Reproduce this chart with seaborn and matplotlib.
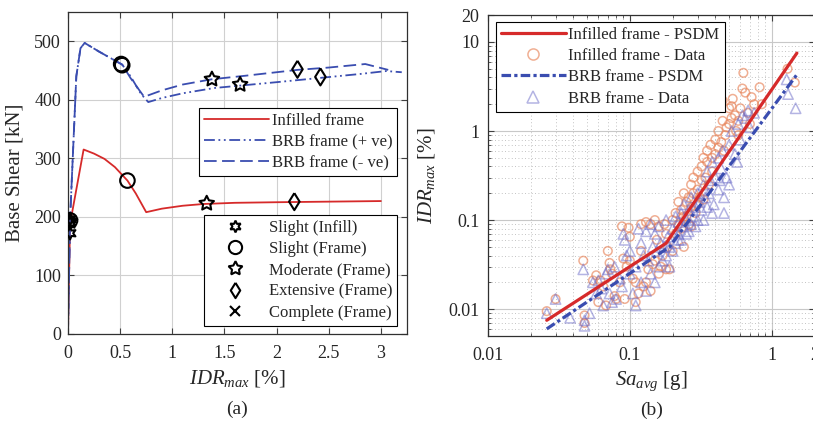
import numpy as np
import pandas as pd
import matplotlib
matplotlib.use("Agg")
import matplotlib.pyplot as plt
import matplotlib.ticker as mticker
from matplotlib.lines import Line2D
import seaborn as sns

sns.set_style("ticks")
plt.rcParams["font.family"] = ["Liberation Serif", "DejaVu Serif"]
plt.rcParams["mathtext.fontset"] = "custom"
plt.rcParams["mathtext.rm"] = "Liberation Serif"
plt.rcParams["mathtext.it"] = "Liberation Serif:italic"

# ---- (a) pushover curves ----
inf_x = [0, 0.02, 0.15, 0.25, 0.35, 0.45, 0.57, 0.65, 0.75, 0.9, 1.1, 1.3, 1.6, 2.0, 2.5, 3.0]
inf_y = [0, 188, 315, 308, 299, 285, 262, 240, 208, 214, 219, 222, 224, 225, 226, 227]

brb_pos_x = [0, 0.02, 0.08, 0.12, 0.16, 0.3, 0.45, 0.52, 0.6, 0.7, 0.77, 0.9, 1.1, 1.4, 1.7, 2.0, 2.4, 2.8, 3.05, 3.2]
brb_pos_y = [0, 195, 440, 488, 497, 482, 467, 460, 440, 410, 396, 403, 411, 420, 425, 430, 437, 444, 449, 447]

brb_neg_x = [0, 0.02, 0.08, 0.12, 0.16, 0.3, 0.45, 0.52, 0.6, 0.73, 0.9, 1.1, 1.38, 1.7, 2.0, 2.2, 2.5, 2.85, 3.07]
brb_neg_y = [0, 195, 440, 488, 497, 482, 467, 460, 437, 405, 416, 426, 435, 441, 447, 451, 455, 461, 451]

slight_inf_x = [0.02, 0.02, 0.02]
slight_inf_y = [196, 190, 172]
slight_fr_x = [0.51, 0.52, 0.57, 0.02]
slight_fr_y = [461, 459, 262, 194]
moderate_x = [1.38, 1.65, 1.33, 0.02]
moderate_y = [435, 426, 223, 192]
extensive_x = [2.2, 2.42, 2.17]
extensive_y = [452, 439, 226]
complete_x = [3.07, 3.2, 3.0]
complete_y = [450, 447, 228]

# ---- (b) PSDM ----
psdm_inf_sa = [0.026, 0.18, 1.5]
psdm_inf_idr = [0.0075, 0.055, 7.5]
psdm_brb_sa = [0.026, 0.19, 1.5]
psdm_brb_idr = [0.006, 0.05, 4.3]

inf_sa = [0.026, 0.030, 0.047, 0.048, 0.048, 0.055, 0.058, 0.060, 0.062, 0.065, 0.068, 0.070,
          0.072, 0.073, 0.075, 0.078, 0.080, 0.085, 0.088, 0.090, 0.092, 0.095, 0.098, 0.10,
          0.10, 0.105, 0.11, 0.11, 0.115, 0.12, 0.12, 0.125, 0.13, 0.13, 0.135, 0.14, 0.14,
          0.145, 0.15, 0.15, 0.155, 0.16, 0.16, 0.165, 0.17, 0.175, 0.18, 0.18, 0.185, 0.19,
          0.20, 0.20, 0.21, 0.21, 0.22, 0.22, 0.23, 0.23, 0.24, 0.24, 0.25, 0.25, 0.26, 0.26,
          0.27, 0.27, 0.28, 0.28, 0.29, 0.30, 0.30, 0.31, 0.32, 0.32, 0.33, 0.34, 0.35, 0.35,
          0.36, 0.37, 0.38, 0.40, 0.40, 0.42, 0.42, 0.44, 0.45, 0.45, 0.47, 0.48, 0.50, 0.50,
          0.52, 0.52, 0.53, 0.55, 0.58, 0.60, 0.62, 0.63, 0.65, 0.68, 0.72, 0.75, 0.82, 0.58,
          0.38, 0.30, 0.70, 0.85, 1.29, 1.45, 0.24, 0.27, 0.33, 0.46, 0.56]
inf_idr = [0.0095, 0.013, 0.035, 0.0085, 0.007, 0.021, 0.024, 0.012, 0.021, 0.018, 0.011, 0.045,
           0.033, 0.028, 0.025, 0.014, 0.013, 0.020, 0.085, 0.037, 0.013, 0.030, 0.082, 0.065,
           0.035, 0.022, 0.012, 0.020, 0.015, 0.090, 0.045, 0.018, 0.095, 0.020, 0.028, 0.090,
           0.016, 0.032, 0.10, 0.035, 0.060, 0.025, 0.085, 0.030, 0.040, 0.090, 0.028, 0.070,
           0.050, 0.028, 0.10, 0.045, 0.12, 0.070, 0.16, 0.090, 0.080, 0.13, 0.050, 0.20, 0.11,
           0.16, 0.18, 0.090, 0.25, 0.14, 0.20, 0.30, 0.12, 0.35, 0.22, 0.18, 0.40, 0.28, 0.50,
           0.30, 0.60, 0.45, 0.25, 0.70, 0.50, 0.80, 0.55, 1.0, 0.65, 0.75, 1.3, 2.2, 0.90, 1.1,
           1.8, 1.2, 1.9, 1.4, 2.3, 1.5, 1.3, 1.8, 3.0, 4.5, 2.7, 1.6, 2.4, 2.0, 3.1, 0.90, 0.35,
           0.15, 1.2, 2.0, 5.0, 3.5, 0.11, 0.085, 0.17, 0.60, 1.0]

brb_sa = [0.026, 0.030, 0.038, 0.047, 0.048, 0.048, 0.052, 0.055, 0.058, 0.060, 0.063, 0.065,
          0.068, 0.070, 0.072, 0.075, 0.078, 0.080, 0.085, 0.088, 0.090, 0.092, 0.095, 0.10,
          0.10, 0.105, 0.11, 0.11, 0.115, 0.12, 0.12, 0.125, 0.13, 0.13, 0.135, 0.14, 0.14,
          0.145, 0.15, 0.15, 0.155, 0.16, 0.16, 0.165, 0.17, 0.175, 0.18, 0.18, 0.185, 0.19,
          0.20, 0.20, 0.21, 0.21, 0.22, 0.22, 0.23, 0.23, 0.24, 0.24, 0.25, 0.25, 0.26, 0.27,
          0.27, 0.28, 0.29, 0.30, 0.30, 0.31, 0.32, 0.33, 0.34, 0.35, 0.36, 0.37, 0.38, 0.39,
          0.40, 0.42, 0.42, 0.44, 0.45, 0.46, 0.48, 0.50, 0.50, 0.52, 0.55, 0.58, 0.60, 0.62,
          0.65, 0.68, 0.70, 0.75, 0.38, 0.33, 1.27, 1.30, 1.47, 0.46, 0.26, 0.29, 0.35, 0.43,
          0.19, 0.22, 0.57]
brb_idr = [0.009, 0.013, 0.008, 0.028, 0.0075, 0.0065, 0.009, 0.020, 0.015, 0.021, 0.017, 0.011,
           0.025, 0.028, 0.015, 0.012, 0.030, 0.013, 0.022, 0.018, 0.070, 0.060, 0.040, 0.025,
           0.045, 0.015, 0.011, 0.030, 0.080, 0.020, 0.055, 0.040, 0.016, 0.075, 0.035, 0.090,
           0.025, 0.050, 0.070, 0.020, 0.045, 0.030, 0.085, 0.055, 0.035, 0.050, 0.040, 0.10,
           0.065, 0.030, 0.045, 0.080, 0.055, 0.11, 0.070, 0.095, 0.12, 0.060, 0.085, 0.15,
           0.10, 0.070, 0.13, 0.090, 0.18, 0.11, 0.14, 0.20, 0.10, 0.16, 0.13, 0.25, 0.18, 0.35,
           0.20, 0.28, 0.45, 0.15, 0.30, 0.50, 0.22, 0.38, 0.60, 0.18, 0.30, 0.70, 0.25, 1.0,
           0.55, 1.2, 0.80, 1.5, 1.4, 1.7, 1.1, 1.6, 0.12, 0.10, 3.8, 2.6, 1.8, 0.12, 0.075,
           0.085, 0.14, 0.28, 0.05, 0.06, 0.45]

RED = "#d62a2a"
BLUE = "#3a4db0"
ORANGE = "#e8845a"
LBLUE = "#6a6ac8"
DIAMOND = [(0, 1), (0.62, 0), (0, -1), (-0.62, 0), (0, 1)]
DASHDOT = (0, (6, 2, 1, 2, 1, 2))
DASHED = (0, (7, 3))

fig = plt.figure(figsize=(8.13, 4.21), dpi=100)
ax1 = fig.add_axes([0.0836, 0.2067, 0.417, 0.765])
ax2 = fig.add_axes([0.600, 0.202, 0.402, 0.762])

# ----- panel (a) -----
sns.lineplot(x=inf_x, y=inf_y, sort=False, estimator=None, color=RED, lw=1.3, ax=ax1)
sns.lineplot(x=brb_pos_x, y=brb_pos_y, sort=False, estimator=None, color=BLUE, lw=1.3,
             ax=ax1, linestyle=DASHDOT)
sns.lineplot(x=brb_neg_x, y=brb_neg_y, sort=False, estimator=None, color=BLUE, lw=1.3,
             ax=ax1, linestyle=DASHED)

mk = dict(facecolor="none", edgecolor="black", linewidth=1.5, ax=ax1, zorder=5, legend=False)
sns.scatterplot(x=slight_inf_x, y=slight_inf_y, marker=(6, 1, 0), s=80, **mk)
sns.scatterplot(x=slight_fr_x, y=slight_fr_y, marker="o", s=110, **mk)
sns.scatterplot(x=moderate_x, y=moderate_y, marker=(5, 1, 0), s=120, **mk)
sns.scatterplot(x=extensive_x, y=extensive_y, marker=DIAMOND, s=150, **mk)
sns.scatterplot(x=complete_x, y=complete_y, marker="x", s=40, **mk)

ax1.set_xlim(0, 3.25)
ax1.set_ylim(0, 550)
ax1.set_xticks([0, 0.5, 1, 1.5, 2, 2.5, 3])
ax1.set_xticklabels(["0", "0.5", "1", "1.5", "2", "2.5", "3"])
ax1.set_yticks([0, 100, 200, 300, 400, 500])
ax1.grid(True, color="#d0d0d0", lw=0.8)
ax1.set_xlabel(r"$IDR_{max}$ [%]", fontsize=15, labelpad=4)
ax1.set_ylabel("Base Shear [kN]", fontsize=15, labelpad=7)
ax1.text(0.5, -0.235, "(a)", transform=ax1.transAxes, ha="center", va="center", fontsize=14)

leg_kw = dict(fontsize=12, handletextpad=0.15, labelspacing=0.32, borderpad=0.3,
              borderaxespad=0, frameon=True, fancybox=False, edgecolor="black",
              framealpha=1)

h1 = [Line2D([], [], color=RED, lw=1.3),
      Line2D([], [], color=BLUE, lw=1.3, linestyle=DASHDOT),
      Line2D([], [], color=BLUE, lw=1.3, linestyle=DASHED)]
leg1 = ax1.legend(h1, ["Infilled frame", "BRB frame (+ ve)", "BRB frame (- ve)"],
                  loc="upper left", bbox_to_anchor=(0.387, 0.703), handlelength=3.9, **leg_kw)
leg1.get_frame().set_linewidth(0.8)
ax1.add_artist(leg1)

mkh = dict(color="none", markeredgecolor="black", markerfacecolor="none", markeredgewidth=1.5)
h2 = [Line2D([], [], marker=(6, 1, 0), markersize=8.5, **mkh),
      Line2D([], [], marker="o", markersize=9.5, **mkh),
      Line2D([], [], marker=(5, 1, 0), markersize=10.5, **mkh),
      Line2D([], [], marker=DIAMOND, markersize=11, **mkh),
      Line2D([], [], marker="x", markersize=6.5, **mkh)]
leg2 = ax1.legend(h2, ["Slight (Infill)", "Slight (Frame)", "Moderate (Frame)",
                       "Extensive (Frame)", "Complete (Frame)"],
                  loc="lower right", bbox_to_anchor=(0.971, 0.025), handlelength=3.2,
                  **{**leg_kw, "handletextpad": 0.4})
leg2.get_frame().set_linewidth(0.8)

# ----- panel (b) -----
sns.scatterplot(x=inf_sa, y=inf_idr, marker="o", s=38, facecolor="none", edgecolor=ORANGE,
                linewidth=1.1, alpha=0.65, ax=ax2, legend=False)
sns.scatterplot(x=brb_sa, y=brb_idr, marker="^", s=55, facecolor="none", edgecolor=LBLUE,
                linewidth=1.1, alpha=0.5, ax=ax2, legend=False)
sns.lineplot(x=psdm_inf_sa, y=psdm_inf_idr, sort=False, estimator=None, color=RED, lw=2.3, ax=ax2)
sns.lineplot(x=psdm_brb_sa, y=psdm_brb_idr, sort=False, estimator=None, color=BLUE, lw=2.3,
             ax=ax2, linestyle=(0, (3, 1, 1, 1)))

ax2.set_xscale("log")
ax2.set_yscale("log")
ax2.set_xlim(0.01, 2)
ax2.set_ylim(0.005, 20)
ax2.set_xticks([0.01, 0.1, 1, 2])
ax2.set_xticklabels(["0.01", "0.1", "1", "2"])
ax2.set_yticks([0.01, 0.1, 1, 10, 20])
ax2.set_yticklabels(["0.01", "0.1", "1", "10", "20"])
ax2.xaxis.set_minor_locator(mticker.LogLocator(base=10, subs=np.arange(2, 10)))
ax2.yaxis.set_minor_locator(mticker.LogLocator(base=10, subs=np.arange(2, 10)))
ax2.xaxis.set_minor_formatter(mticker.NullFormatter())
ax2.yaxis.set_minor_formatter(mticker.NullFormatter())
ax2.grid(True, which="major", color="#c8c8c8", lw=0.8)
ax2.grid(True, which="minor", color="#b0b0b0", lw=0.6, linestyle=(0, (1, 3)))
ax2.set_xlabel(r"$Sa_{avg}$ [g]", fontsize=15, labelpad=4)
ax2.set_ylabel(r"$IDR_{max}$ [%]", fontsize=15, labelpad=8)
ax2.text(0.5, -0.232, "(b)", transform=ax2.transAxes, ha="center", va="center", fontsize=14)

h3 = [Line2D([], [], color=RED, lw=2.3),
      Line2D([], [], color="none", marker="o", markersize=8, markerfacecolor="none",
             markeredgecolor=ORANGE, markeredgewidth=1.1, alpha=0.65),
      Line2D([], [], color=BLUE, lw=2.3, linestyle=(0, (3, 1, 1, 1))),
      Line2D([], [], color="none", marker="^", markersize=9, markerfacecolor="none",
             markeredgecolor=LBLUE, markeredgewidth=1.1, alpha=0.5)]
leg3 = ax2.legend(h3, ["Infilled frame - PSDM", "Infilled frame - Data", "BRB frame - PSDM",
                       "BRB frame - Data"],
                  loc="upper left", bbox_to_anchor=(0.025, 0.98), handlelength=3.9, **leg_kw)
leg3.get_frame().set_linewidth(0.8)

for ax in (ax1, ax2):
    ax.tick_params(which="both", direction="in", top=True, right=True, labelsize=13,
                   color="#404040")
    ax.tick_params(which="major", length=4, width=0.8)
    ax.tick_params(which="minor", length=2, width=0.6)
    ax.tick_params(axis="x", which="major", pad=8)
    for sp in ax.spines.values():
        sp.set_linewidth(0.9)
        sp.set_color("#303030")
ax1.tick_params(axis="y", which="major", pad=5)
ax2.tick_params(axis="y", which="major", pad=6)

fig.savefig("out.png", dpi=100)
